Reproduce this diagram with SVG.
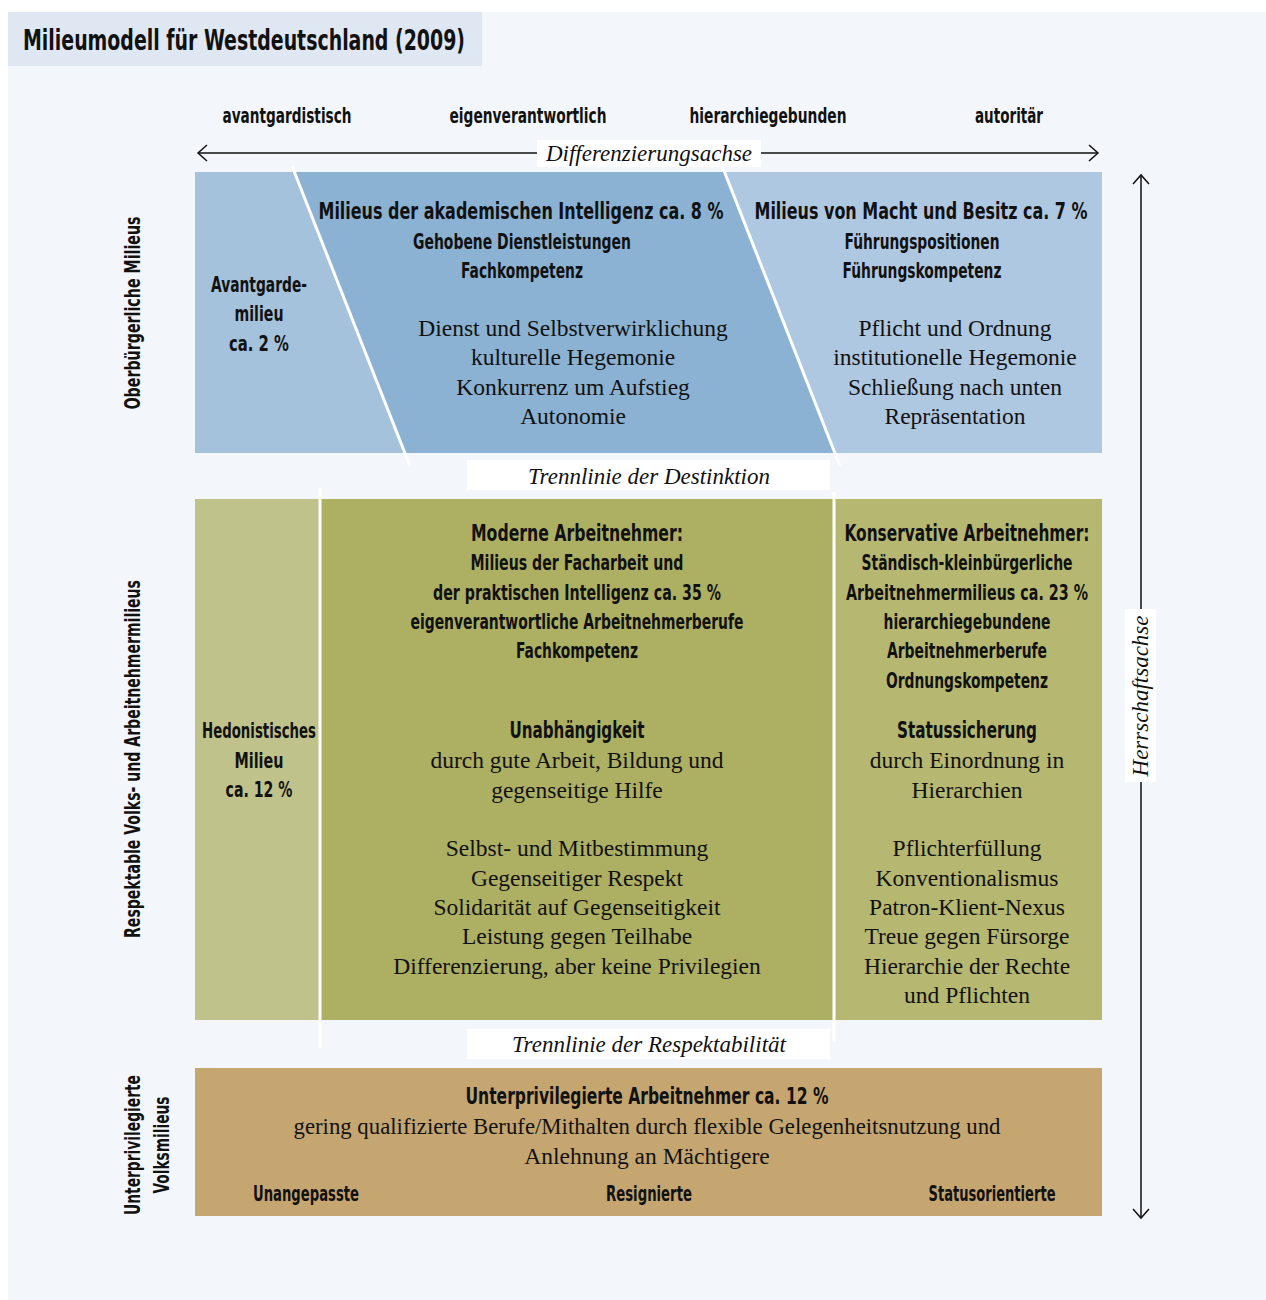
<svg xmlns="http://www.w3.org/2000/svg" width="1266" height="1300" viewBox="0 0 1266 1300">
<defs>
<style>
.b{font-family:"DejaVu Sans","Liberation Sans",sans-serif;font-stretch:condensed;font-weight:bold;fill:#111;text-anchor:middle}
.s{font-family:"Liberation Serif","DejaVu Serif",serif;fill:#111;text-anchor:middle;font-size:23.5px}
.i{font-family:"Liberation Serif","DejaVu Serif",serif;font-style:italic;fill:#111;text-anchor:middle;font-size:23px}
.h{font-size:23px}
.m{font-size:20.5px}
.ax{stroke:#111;stroke-width:1.5;fill:none}
.wl{stroke:#fff;stroke-width:3;fill:none}
</style>
</defs>
<rect x="0" y="0" width="1266" height="1300" fill="#fff"/>
<rect x="8" y="12" width="1258" height="1288" fill="#f3f7fb"/>
<g id="title">
<rect x="8" y="12" width="474" height="54" fill="#dfe7f2"/>
<text class="b" x="244" y="50" style="font-size:29px" textLength="442" lengthAdjust="spacingAndGlyphs">Milieumodell für Westdeutschland (2009)</text>
</g>
<g id="column-labels">
<text class="b m" x="287" y="123" textLength="129" lengthAdjust="spacingAndGlyphs">avantgardistisch</text>
<text class="b m" x="528" y="123" textLength="157" lengthAdjust="spacingAndGlyphs">eigenverantwortlich</text>
<text class="b m" x="768" y="123" textLength="157" lengthAdjust="spacingAndGlyphs">hierarchiegebunden</text>
<text class="b m" x="1009" y="123" textLength="68" lengthAdjust="spacingAndGlyphs">autoritär</text>
</g>
<g id="row-labels">
<text class="b m" transform="translate(140,313) rotate(-90)" textLength="193" lengthAdjust="spacingAndGlyphs">Oberbürgerliche Milieus</text>
<text class="b m" transform="translate(140,759) rotate(-90)" textLength="358" lengthAdjust="spacingAndGlyphs">Respektable Volks- und Arbeitnehmermilieus</text>
<text class="b m" transform="translate(140,1145) rotate(-90)" textLength="140" lengthAdjust="spacingAndGlyphs">Unterprivilegierte</text>
<text class="b m" transform="translate(169,1145) rotate(-90)" textLength="97" lengthAdjust="spacingAndGlyphs">Volksmilieus</text>
</g>
<g id="top-row">
<rect x="195" y="172" width="907" height="281" fill="#8bb2d3"/>
<polygon points="195,172 294.4,172 404.8,453 195,453" fill="#a5c2dc"/>
<polygon points="724.5,172 1102,172 1102,453 835,453" fill="#afc8e1"/>
</g>
<g id="middle-row">
<rect x="195" y="499" width="125" height="521" fill="#bfc38b"/>
<rect x="320" y="499" width="514" height="521" fill="#adb063"/>
<rect x="834" y="499" width="268" height="521" fill="#b6b872"/>
</g>
<g id="bottom-row">
<rect x="195" y="1068" width="907" height="148" fill="#c5a670"/>
</g>
<g id="connectors">
<line class="wl" x1="292" y1="166" x2="410" y2="466"/>
<line class="wl" x1="721" y1="163" x2="840" y2="466"/>
<line class="wl" x1="320" y1="488" x2="320" y2="1048"/>
<line class="wl" x1="834" y1="492" x2="834" y2="1042"/>
<line class="ax" x1="198" y1="153" x2="1098" y2="153"/>
<polyline class="ax" points="207,145 198,153 207,161"/>
<polyline class="ax" points="1089,145 1098,153 1089,161"/>
<line class="ax" x1="1141" y1="176" x2="1141" y2="1217"/>
<polyline class="ax" points="1133,184 1141,175 1149,184"/>
<polyline class="ax" points="1133,1209 1141,1218 1149,1209"/>
</g>
<g id="axis-labels">
<rect x="537" y="140" width="224" height="27" fill="#fff"/>
<text class="i" x="649" y="161">Differenzierungsachse</text>
<rect x="1125" y="609" width="31" height="173" fill="#fff"/>
<text class="i" transform="translate(1148,696) rotate(-90)">Herrschaftsachse</text>
<rect x="467" y="460" width="363" height="30" fill="#fff"/>
<text class="i" x="649" y="484">Trennlinie der Destinktion</text>
<rect x="467" y="1029" width="363" height="30" fill="#fff"/>
<text class="i" x="649" y="1052">Trennlinie der Respektabilität</text>
</g>
<g id="avantgarde">
<text class="b m" x="259" y="292" textLength="96" lengthAdjust="spacingAndGlyphs">Avantgarde-</text>
<text class="b m" x="259" y="321" textLength="49" lengthAdjust="spacingAndGlyphs">milieu</text>
<text class="b m" x="259" y="351" textLength="60" lengthAdjust="spacingAndGlyphs">ca. 2 %</text>
</g>
<g id="akademische-intelligenz">
<text class="b h" x="521" y="219" textLength="405" lengthAdjust="spacingAndGlyphs">Milieus der akademischen Intelligenz ca. 8 %</text>
<text class="b m" x="522" y="249" textLength="218" lengthAdjust="spacingAndGlyphs">Gehobene Dienstleistungen</text>
<text class="b m" x="522" y="278" textLength="122" lengthAdjust="spacingAndGlyphs">Fachkompetenz</text>
<text class="s" x="573" y="336">Dienst und Selbstverwirklichung</text>
<text class="s" x="573" y="365">kulturelle Hegemonie</text>
<text class="s" x="573" y="395">Konkurrenz um Aufstieg</text>
<text class="s" x="573" y="424">Autonomie</text>
</g>
<g id="macht-besitz">
<text class="b h" x="921" y="219" textLength="333" lengthAdjust="spacingAndGlyphs">Milieus von Macht und Besitz ca. 7 %</text>
<text class="b m" x="922" y="249" textLength="155" lengthAdjust="spacingAndGlyphs">Führungspositionen</text>
<text class="b m" x="922" y="278" textLength="159" lengthAdjust="spacingAndGlyphs">Führungskompetenz</text>
<text class="s" x="955" y="336">Pflicht und Ordnung</text>
<text class="s" x="955" y="365">institutionelle Hegemonie</text>
<text class="s" x="955" y="395">Schließung nach unten</text>
<text class="s" x="955" y="424">Repräsentation</text>
</g>
<g id="hedonistisch">
<text class="b m" x="259" y="738" textLength="114" lengthAdjust="spacingAndGlyphs">Hedonistisches</text>
<text class="b m" x="259" y="768" textLength="49" lengthAdjust="spacingAndGlyphs">Milieu</text>
<text class="b m" x="259" y="797" textLength="67" lengthAdjust="spacingAndGlyphs">ca. 12 %</text>
</g>
<g id="moderne-arbeitnehmer">
<text class="b h" x="577" y="541" textLength="212" lengthAdjust="spacingAndGlyphs">Moderne Arbeitnehmer:</text>
<text class="b m" x="577" y="570" textLength="213" lengthAdjust="spacingAndGlyphs">Milieus der Facharbeit und</text>
<text class="b m" x="577" y="600" textLength="288" lengthAdjust="spacingAndGlyphs">der praktischen Intelligenz ca. 35 %</text>
<text class="b m" x="577" y="629" textLength="333" lengthAdjust="spacingAndGlyphs">eigenverantwortliche Arbeitnehmerberufe</text>
<text class="b m" x="577" y="658" textLength="122" lengthAdjust="spacingAndGlyphs">Fachkompetenz</text>
<text class="b h" x="577" y="738" textLength="135" lengthAdjust="spacingAndGlyphs">Unabhängigkeit</text>
<text class="s" x="577" y="768">durch gute Arbeit, Bildung und</text>
<text class="s" x="577" y="798">gegenseitige Hilfe</text>
<text class="s" x="577" y="856">Selbst- und Mitbestimmung</text>
<text class="s" x="577" y="886">Gegenseitiger Respekt</text>
<text class="s" x="577" y="915">Solidarität auf Gegenseitigkeit</text>
<text class="s" x="577" y="944">Leistung gegen Teilhabe</text>
<text class="s" x="577" y="974">Differenzierung, aber keine Privilegien</text>
</g>
<g id="konservative-arbeitnehmer">
<text class="b h" x="967" y="541" textLength="245" lengthAdjust="spacingAndGlyphs">Konservative Arbeitnehmer:</text>
<text class="b m" x="967" y="570" textLength="211" lengthAdjust="spacingAndGlyphs">Ständisch-kleinbürgerliche</text>
<text class="b m" x="967" y="600" textLength="242" lengthAdjust="spacingAndGlyphs">Arbeitnehmermilieus ca. 23 %</text>
<text class="b m" x="967" y="629" textLength="167" lengthAdjust="spacingAndGlyphs">hierarchiegebundene</text>
<text class="b m" x="967" y="658" textLength="160" lengthAdjust="spacingAndGlyphs">Arbeitnehmerberufe</text>
<text class="b m" x="967" y="688" textLength="162" lengthAdjust="spacingAndGlyphs">Ordnungskompetenz</text>
<text class="b h" x="967" y="738" textLength="140" lengthAdjust="spacingAndGlyphs">Statussicherung</text>
<text class="s" x="967" y="768">durch Einordnung in</text>
<text class="s" x="967" y="798">Hierarchien</text>
<text class="s" x="967" y="856">Pflichterfüllung</text>
<text class="s" x="967" y="886">Konventionalismus</text>
<text class="s" x="967" y="915">Patron-Klient-Nexus</text>
<text class="s" x="967" y="944">Treue gegen Fürsorge</text>
<text class="s" x="967" y="974">Hierarchie der Rechte</text>
<text class="s" x="967" y="1003">und Pflichten</text>
</g>
<g id="unterprivilegierte">
<text class="b h" x="647" y="1104" textLength="363" lengthAdjust="spacingAndGlyphs">Unterprivilegierte Arbeitnehmer ca. 12 %</text>
<text class="s" x="647" y="1134" textLength="707" lengthAdjust="spacingAndGlyphs">gering qualifizierte Berufe/Mithalten durch flexible Gelegenheitsnutzung und</text>
<text class="s" x="647" y="1164">Anlehnung an Mächtigere</text>
<text class="b m" x="306" y="1201" textLength="106" lengthAdjust="spacingAndGlyphs">Unangepasste</text>
<text class="b m" x="649" y="1201" textLength="86" lengthAdjust="spacingAndGlyphs">Resignierte</text>
<text class="b m" x="992" y="1201" textLength="127" lengthAdjust="spacingAndGlyphs">Statusorientierte</text>
</g>
</svg>
